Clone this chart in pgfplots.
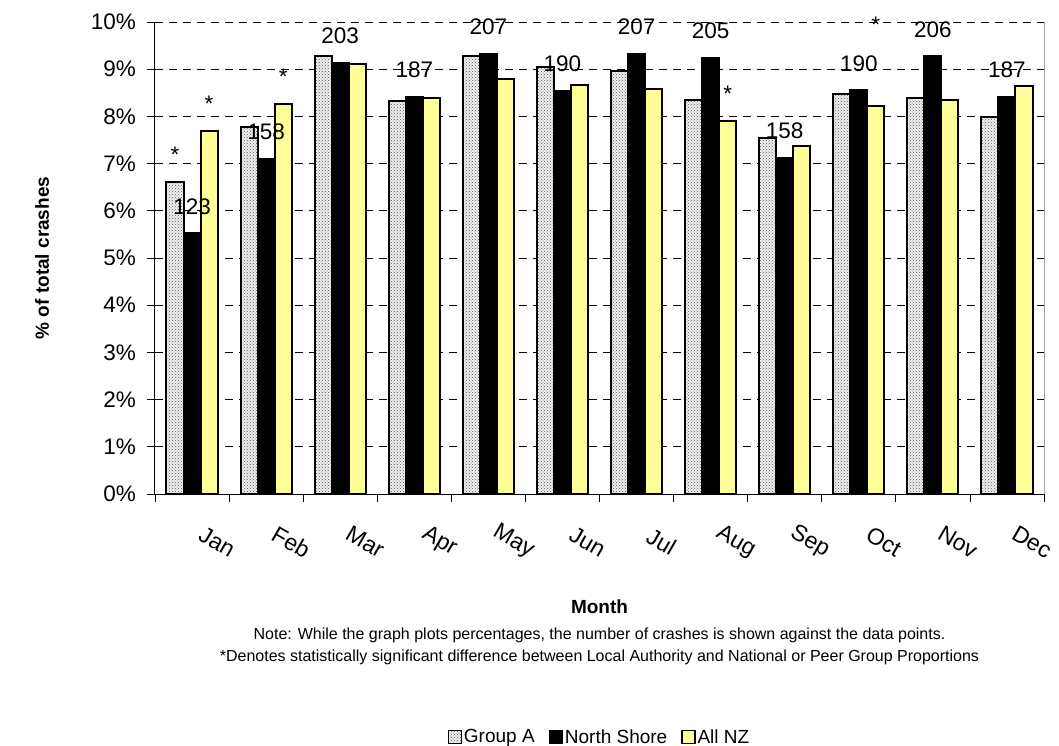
\documentclass[border=0pt]{standalone}
\usepackage{fontspec}
\setmainfont{Liberation Sans}
\usepackage{pgfplots}
\pgfplotsset{compat=1.18}
\usetikzlibrary{patterns}
\definecolor{nzyellow}{HTML}{FFFF99}
\begin{document}
\begin{tikzpicture}
\path[use as bounding box] (-155pt,-251pt) rectangle (904pt,494pt);
\begin{axis}[
  at={(0pt,0pt)}, anchor=south west,
  width=889pt, height=472pt, scale only axis,
  xmin=-0.5, xmax=11.5, ymin=0, ymax=10,
  axis x line*=bottom, axis y line*=left,
  axis line style={black, line width=1pt},
  ybar, bar width=0.23,
  tick align=outside, major tick length=8pt,
  tick style={black, line width=0.8pt},
  xtick={-0.5,0.5,...,11.5}, xticklabels={},
  extra x ticks={0,1,2,3,4,5,6,7,8,9,10,11},
  extra x tick labels={Jan,Feb,Mar,Apr,May,Jun,Jul,Aug,Sep,Oct,Nov,Dec},
  extra x tick style={major tick length=0pt,
    xticklabel style={font=\fontsize{23}{27}\selectfont, inner sep=0pt, anchor=center, xshift=25pt, yshift=-48pt, rotate=-30}},
  ytick={0,1,2,3,4,5,6,7,8,9,10},
  yticklabels={0\%,1\%,2\%,3\%,4\%,5\%,6\%,7\%,8\%,9\%,10\%},
  yticklabel style={font=\fontsize{22.5}{27}\selectfont, inner sep=0pt, anchor=east, xshift=-11pt},
  ymajorgrids, grid style={black, dash pattern=on 8pt off 6pt, line width=0.8pt},
  ylabel={\% of total crashes},
  ylabel style={at={(axis description cs:-0.1271,0.5)}, anchor=center, font=\fontsize{19}{23}\selectfont\bfseries},
  xlabel={Month},
  xlabel style={at={(axis description cs:0.5,-0.2394)}, anchor=center, font=\fontsize{19}{23}\selectfont\bfseries},
  legend style={at={(axis description cs:0.5,-0.5148)}, anchor=center, draw=none, legend columns=3,
    font=\fontsize{19}{22}\selectfont, /tikz/every even column/.append style={column sep=12pt}},
  legend image code/.code={\draw[#1, line width=1.2pt] (0pt,-6.5pt) rectangle (13pt,6.5pt);},
  every node near coord/.append style={font=\fontsize{22.5}{27}\selectfont, inner sep=0pt, anchor=south, yshift=19pt, black},
]
\addplot[draw=black, line width=2pt, fill=gray!12, postaction={pattern=crosshatch dots, pattern color=black!65}, bar shift=-0.23]
  coordinates {(0,6.62) (1,7.77) (2,9.28) (3,8.32) (4,9.29) (5,9.05) (6,8.96) (7,8.35) (8,7.54) (9,8.47) (10,8.40) (11,7.99)};
\addlegendentry{Group A}
\addplot[draw=black, line width=2pt, fill=black, bar shift=0]
  coordinates {(0,5.52) (1,7.10) (2,9.14) (3,8.41) (4,9.33) (5,8.54) (6,9.33) (7,9.23) (8,7.11) (9,8.55) (10,9.27) (11,8.42)};
\addlegendentry{North Shore}
\addplot[draw=black, line width=2pt, fill=nzyellow, bar shift=0.23]
  coordinates {(0,7.70) (1,8.27) (2,9.11) (3,8.39) (4,8.80) (5,8.66) (6,8.58) (7,7.90) (8,7.37) (9,8.23) (10,8.35) (11,8.65)};
\addlegendentry{All NZ}
% crash counts, shown above the North Shore bars
\addplot[draw=none, fill=none, bar shift=0, forget plot, nodes near coords, point meta=explicit symbolic]
  coordinates {(0,5.52)[123] (1,7.10)[158] (2,9.14)[203] (3,8.41)[187] (4,9.33)[207] (5,8.54)[190] (6,9.33)[207] (7,9.23)[205] (8,7.11)[158] (9,8.55)[190] (10,9.27)[206] (11,8.42)[187]};
% significance markers
\addplot[draw=none, fill=none, bar shift=-0.23, forget plot, nodes near coords, point meta=explicit symbolic]
  coordinates {(0,6.62)[*]};
\addplot[draw=none, fill=none, bar shift=0.23, forget plot, nodes near coords, point meta=explicit symbolic]
  coordinates {(0,7.70)[*] (1,8.27)[*] (7,7.90)[*] (9,8.23)[\raisebox{54pt}{*}]};
\end{axis}
\draw[gray!70, line width=1pt] (889pt,0pt) -- (889pt,472pt);
\node[font=\fontsize{16}{19}\selectfont] at (444.5pt,-141pt) {Note: While the graph plots percentages, the number of crashes is shown against the data points.};
\node[font=\fontsize{16}{19}\selectfont] at (444.5pt,-163pt) {*Denotes statistically significant difference between Local Authority and National or Peer Group Proportions};
\end{tikzpicture}
\end{document}
